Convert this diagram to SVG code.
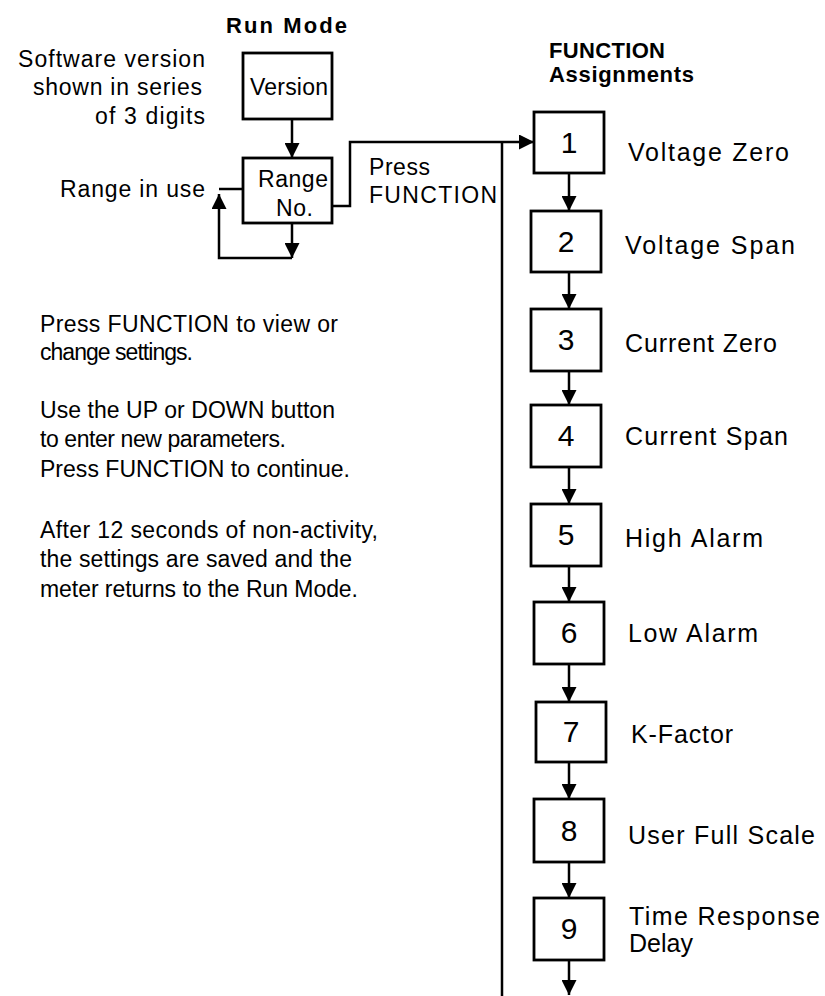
<svg xmlns="http://www.w3.org/2000/svg" width="825" height="996" viewBox="0 0 825 996">
<style>
text{font-family:"Liberation Sans",Arial,sans-serif;fill:#000}
.t{font-size:23px}
.b{font-size:22px;font-weight:bold}
.lbl{font-size:25px}
.dig{font-size:30px;text-anchor:middle}
.box{fill:#fff;stroke:#000;stroke-width:2.8}
.ln{fill:none;stroke:#000;stroke-width:2.5}
</style>
<defs>
<marker id="ah" markerUnits="userSpaceOnUse" markerWidth="15" markerHeight="15" refX="15" refY="7.5" orient="auto">
<path d="M0,0 L15,7.5 L0,15 Z" fill="#000"/>
</marker>
</defs>
<rect width="825" height="996" fill="#fff"/>

<g id="titles">
<text class="b" x="226" y="33" textLength="121" lengthAdjust="spacing">Run Mode</text>
<text class="b" x="549" y="58" textLength="116" lengthAdjust="spacing">FUNCTION</text>
<text class="b" x="549" y="82" textLength="145" lengthAdjust="spacing">Assignments</text>
</g>

<g id="notes">
<text class="t" x="18" y="67" textLength="187" lengthAdjust="spacing">Software version</text>
<text class="t" x="33" y="95" textLength="169" lengthAdjust="spacing">shown in series</text>
<text class="t" x="95" y="124" textLength="110" lengthAdjust="spacing">of 3 digits</text>
<text class="t" x="60" y="197" textLength="145" lengthAdjust="spacing">Range in use</text>
<text class="t" x="369" y="175" textLength="61" lengthAdjust="spacing">Press</text>
<text class="t" x="369" y="203" textLength="128" lengthAdjust="spacing">FUNCTION</text>
</g>

<g id="paragraph">
<text class="t" x="40" y="332" textLength="298" lengthAdjust="spacing">Press FUNCTION to view  or</text>
<text class="t" x="40" y="360" textLength="153" lengthAdjust="spacing">change settings.</text>
<text class="t" x="40" y="418" textLength="295" lengthAdjust="spacing">Use the UP or DOWN button</text>
<text class="t" x="40" y="447" textLength="246" lengthAdjust="spacing">to enter new parameters.</text>
<text class="t" x="40" y="477" textLength="310" lengthAdjust="spacing">Press FUNCTION to continue.</text>
<text class="t" x="40" y="538" textLength="338" lengthAdjust="spacing">After 12 seconds of non-activity,</text>
<text class="t" x="40" y="567" textLength="312" lengthAdjust="spacing">the settings are saved and the</text>
<text class="t" x="40" y="597" textLength="318" lengthAdjust="spacing">meter returns to the Run Mode.</text>
</g>

<g id="connectors">
<line class="ln" x1="292" y1="119" x2="292" y2="158" marker-end="url(#ah)"/>
<line class="ln" x1="292" y1="223" x2="292" y2="258" marker-end="url(#ah)"/>
<polyline class="ln" points="292,258 219,258 219,194" marker-end="url(#ah)"/>
<line class="ln" x1="219" y1="189" x2="243" y2="189"/>
<polyline class="ln" points="332,206 350,206 350,142 534,142" marker-end="url(#ah)"/>
<line class="ln" x1="502" y1="142" x2="502" y2="996"/>
<line class="ln" x1="569" y1="173" x2="569" y2="211" marker-end="url(#ah)"/>
<line class="ln" x1="569" y1="272" x2="569" y2="309" marker-end="url(#ah)"/>
<line class="ln" x1="569" y1="371" x2="569" y2="405" marker-end="url(#ah)"/>
<line class="ln" x1="569" y1="467" x2="569" y2="504" marker-end="url(#ah)"/>
<line class="ln" x1="569" y1="566" x2="569" y2="602" marker-end="url(#ah)"/>
<line class="ln" x1="569" y1="664" x2="569" y2="702" marker-end="url(#ah)"/>
<line class="ln" x1="569" y1="762" x2="569" y2="799" marker-end="url(#ah)"/>
<line class="ln" x1="569" y1="862" x2="569" y2="898" marker-end="url(#ah)"/>
<line class="ln" x1="569" y1="960" x2="569" y2="995" marker-end="url(#ah)"/>
</g>

<g id="version">
<rect class="box" x="243" y="53" width="89" height="66"/>
<text class="t" x="250" y="95" textLength="78" lengthAdjust="spacing">Version</text>
</g>
<g id="range">
<rect class="box" x="243" y="158" width="89" height="65"/>
<text class="t" x="258" y="187" textLength="70" lengthAdjust="spacing">Range</text>
<text class="t" x="276" y="216" textLength="37" lengthAdjust="spacing">No.</text>
</g>

<g id="f1">
<rect class="box" x="534" y="112" width="70" height="61"/>
<text class="dig" x="569" y="153">1</text>
<text class="lbl" x="628" y="161" textLength="161" lengthAdjust="spacing">Voltage Zero</text>
</g>
<g id="f2">
<rect class="box" x="531" y="211" width="70" height="61"/>
<text class="dig" x="566" y="252">2</text>
<text class="lbl" x="625" y="254" textLength="170" lengthAdjust="spacing">Voltage Span</text>
</g>
<g id="f3">
<rect class="box" x="531" y="309" width="70" height="62"/>
<text class="dig" x="566" y="350">3</text>
<text class="lbl" x="625" y="352" textLength="152" lengthAdjust="spacing">Current Zero</text>
</g>
<g id="f4">
<rect class="box" x="531" y="405" width="70" height="62"/>
<text class="dig" x="566" y="446">4</text>
<text class="lbl" x="625" y="445" textLength="163" lengthAdjust="spacing">Current Span</text>
</g>
<g id="f5">
<rect class="box" x="531" y="504" width="70" height="62"/>
<text class="dig" x="566" y="545">5</text>
<text class="lbl" x="625" y="547" textLength="138" lengthAdjust="spacing">High Alarm</text>
</g>
<g id="f6">
<rect class="box" x="534" y="602" width="70" height="62"/>
<text class="dig" x="569" y="643">6</text>
<text class="lbl" x="628" y="642" textLength="130" lengthAdjust="spacing">Low Alarm</text>
</g>
<g id="f7">
<rect class="box" x="536" y="702" width="70" height="60"/>
<text class="dig" x="571" y="742">7</text>
<text class="lbl" x="631" y="743" textLength="102" lengthAdjust="spacing">K-Factor</text>
</g>
<g id="f8">
<rect class="box" x="534" y="799" width="70" height="63"/>
<text class="dig" x="569" y="841">8</text>
<text class="lbl" x="628" y="844" textLength="187" lengthAdjust="spacing">User Full Scale</text>
</g>
<g id="f9">
<rect class="box" x="534" y="898" width="70" height="62"/>
<text class="dig" x="569" y="939">9</text>
<text class="lbl" x="629" y="925" textLength="191" lengthAdjust="spacing">Time Response</text>
<text class="lbl" x="629" y="952" textLength="64" lengthAdjust="spacing">Delay</text>
</g>
</svg>
